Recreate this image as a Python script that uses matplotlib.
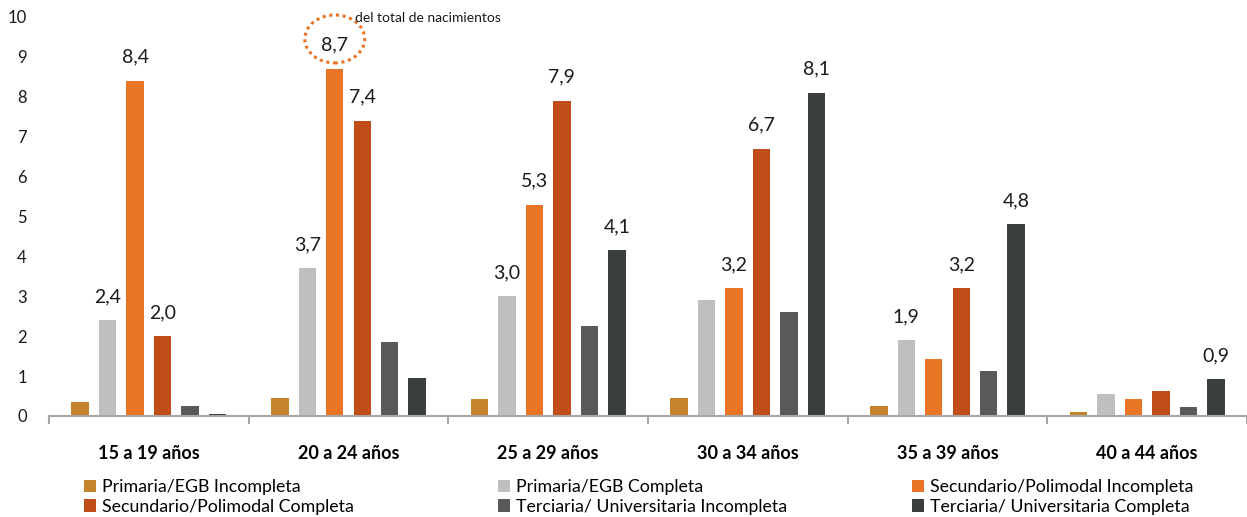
import matplotlib
matplotlib.use("Agg")
import matplotlib.pyplot as plt
from matplotlib.patches import Ellipse
import numpy as np

plt.rcParams['font.family'] = ['Lato', 'DejaVu Sans']

groups = ["15 a 19 años", "20 a 24 años", "25 a 29 años", "30 a 34 años", "35 a 39 años", "40 a 44 años"]
series = ["Primaria/EGB Incompleta", "Primaria/EGB Completa", "Secundario/Polimodal Incompleta",
          "Secundario/Polimodal Completa", "Terciaria/ Universitaria Incompleta", "Terciaria/ Universitaria Completa"]
colors = ["#C5832B", "#BFBFBF", "#E87425", "#C04D17", "#595959", "#3A3F3B"]

prim_inc  = [0.35, 0.45, 0.43, 0.45, 0.25, 0.10]
prim_comp = [2.4, 3.7, 3.0, 2.9, 1.9, 0.55]
sec_inc   = [8.4, 8.7, 5.3, 3.2, 1.43, 0.43]
sec_comp  = [2.0, 7.4, 7.9, 6.7, 3.2, 0.63]
ter_inc   = [0.25, 1.85, 2.25, 2.6, 1.13, 0.23]
ter_comp  = [0.05, 0.95, 4.15, 8.1, 4.8, 0.92]
values = [prim_inc, prim_comp, sec_inc, sec_comp, ter_inc, ter_comp]

# which bars carry labels (series index, group index, text)
labels = [(1, 0, "2,4"), (2, 0, "8,4"), (3, 0, "2,0"),
          (1, 1, "3,7"), (2, 1, "8,7"), (3, 1, "7,4"),
          (1, 2, "3,0"), (2, 2, "5,3"), (3, 2, "7,9"), (5, 2, "4,1"),
          (2, 3, "3,2"), (3, 3, "6,7"), (5, 3, "8,1"),
          (1, 4, "1,9"), (3, 4, "3,2"), (5, 4, "4,8"),
          (5, 5, "0,9")]

fig = plt.figure(figsize=(12.47, 5.17), dpi=100)
left_px = 49
ax = fig.add_axes([left_px/1247, 101/517, 1 - left_px/1247, (416-17)/517])

x = np.arange(len(groups))
spacing = 0.1376
width = 0.087
bars = []
for i, (vals, col) in enumerate(zip(values, colors)):
    b = ax.bar(x + (i - 2.5) * spacing, vals, width, color=col, label=series[i], zorder=2)
    bars.append(b)

for si, gi, txt in labels:
    xv = gi + (si - 2.5) * spacing
    ax.annotate(txt, (xv, values[si][gi]), xytext=(0, 11), textcoords="offset points",
                ha="center", va="bottom", fontsize=14, color="#1a1a1a")

# dotted circle around 8,7
cx = 1 + (2 - 2.5) * spacing
ell = Ellipse((cx, 9.45), 0.30, 1.2, fill=False, edgecolor="#E87425", linestyle=(0, (1, 1.2)),
              linewidth=2.2, clip_on=False, zorder=3)
ax.add_patch(ell)
ax.text(1.035, 9.98, "del total de nacimientos", fontsize=10, ha="left", va="center", color="#1a1a1a")

ax.set_ylim(0, 10)
ax.set_xlim(-0.5, -0.5 + (1247 - left_px) / 201.3)
ax.set_yticks(range(0, 11))
ax.tick_params(axis="y", length=0, labelsize=12, pad=16, labelcolor="#1a1a1a")

ax.set_xticks(np.arange(-0.5, 6.0, 1.0))
ax.set_xticklabels([])
ax.tick_params(axis="x", which="major", length=6, width=1.5, color="#A6A6A6")
ax.set_xticks(x, minor=True)
ax.set_xticklabels(groups, minor=True, fontsize=13, fontweight="bold")
ax.tick_params(axis="x", which="minor", length=0, pad=21)

for s in ["top", "right", "left"]:
    ax.spines[s].set_visible(False)
ax.spines["bottom"].set_color("#A6A6A6")
ax.spines["bottom"].set_linewidth(1.5)
ax.spines["bottom"].set_zorder(3)

# legend in three columns placed manually
col_x = [84/1247, 498/1247, 912/1247]
for c in range(3):
    hs = [bars[c], bars[c + 3]]
    ls = [series[c], series[c + 3]]
    fig.legend(hs, ls, loc="upper left", bbox_to_anchor=(col_x[c], 1 - 479/517),
               frameon=False, fontsize=12.8, handlelength=0.7, handleheight=0.7,
               handletextpad=0.3, labelspacing=0.22, borderpad=0, borderaxespad=0)

fig.savefig("out.png", dpi=100)
